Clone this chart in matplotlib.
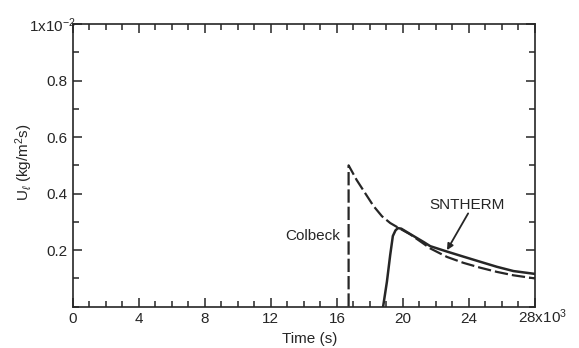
import matplotlib
matplotlib.use("Agg")
import matplotlib.pyplot as plt
from matplotlib.ticker import MultipleLocator
import matplotlib.transforms as mtransforms

# values (time in 10^3 s, U_l in 10^-2 kg/m2s)
colbeck_t = [16.71, 16.71, 17.2, 17.72, 18.22, 18.73, 19.23, 19.73, 20.44, 21.25, 21.66, 22.67, 23.67, 24.68, 25.7, 26.7, 28.0]
colbeck_u = [0.0, 0.50, 0.448, 0.401, 0.356, 0.320, 0.296, 0.279, 0.256, 0.223, 0.206, 0.176, 0.155, 0.138, 0.123, 0.111, 0.100]

sntherm_t = [18.8, 19.03, 19.23, 19.39, 19.55, 19.7, 19.9, 20.44, 21.25, 21.66, 22.67, 23.67, 24.68, 25.7, 26.7, 28.0]
sntherm_u = [0.0, 0.088, 0.183, 0.25, 0.27, 0.278, 0.276, 0.257, 0.229, 0.214, 0.195, 0.177, 0.159, 0.141, 0.126, 0.116]

xticks = [0, 4, 8, 12, 16, 20, 24, 28]
xlabels = ['0', '4', '8', '12', '16', '20', '24', '28x10$^3$']
yticks = [0.2, 0.4, 0.6, 0.8, 1.0]
ylabels = ['0.2', '0.4', '0.6', '0.8', '1x10$^{-2}$']

plt.rcParams['font.family'] = ['Liberation Sans', 'DejaVu Sans']
plt.rcParams['mathtext.fontset'] = 'custom'
plt.rcParams['mathtext.rm'] = 'Liberation Sans'
plt.rcParams['mathtext.it'] = 'Liberation Sans:italic'

ink = '#262626'
fs = 11
fig = plt.figure(figsize=(5.79, 3.48), dpi=100)
ax = fig.add_axes([0.1256, 0.1187, 0.924 - 0.1256, 0.931 - 0.1187])

ax.plot(colbeck_t, colbeck_u, color=ink, lw=1.6, dashes=(6, 1.8))
ax.plot(sntherm_t, sntherm_u, color=ink, lw=1.8)

ax.text(16.2, 0.25, 'Colbeck', ha='right', va='center', fontsize=fs, color=ink)
ax.text(21.6, 0.36, 'SNTHERM', ha='left', va='center', fontsize=fs, color=ink)
ax.annotate('', xy=(22.67, 0.20), xytext=(23.95, 0.33),
            arrowprops=dict(arrowstyle='-|>', color=ink, lw=1.3,
                            shrinkA=0, shrinkB=0, mutation_scale=9))

ax.set_xlim(0, 28)
ax.set_ylim(0, 1.0)
ax.set_xticks(xticks)
ax.set_xticklabels(xlabels)
ax.set_yticks(yticks)
ax.set_yticklabels(ylabels)
ax.xaxis.set_minor_locator(MultipleLocator(1))
ax.yaxis.set_minor_locator(MultipleLocator(0.1))
ax.tick_params(which='both', direction='in', top=True, right=True,
               color=ink, width=1.1, labelsize=fs, labelcolor=ink)
ax.tick_params(which='major', length=6.5, pad=4)
ax.tick_params(which='minor', length=4)
for s in ax.spines.values():
    s.set_linewidth(1.2)
    s.set_color(ink)

# nudge the labels carrying the exponent, like in the original
lab = ax.get_xticklabels()[-1]
lab.set_transform(lab.get_transform() + mtransforms.ScaledTranslation(8 / 100, 5 / 100, fig.dpi_scale_trans))
lab = ax.get_yticklabels()[-1]
lab.set_transform(lab.get_transform() + mtransforms.ScaledTranslation(9 / 100, 0, fig.dpi_scale_trans))

ax.set_xlabel('Time (s)', fontsize=fs, color=ink)
ax.xaxis.set_label_coords(0.513, -0.088)
ax.set_ylabel('U$_\\ell$ (kg/m$^2$s)', fontsize=fs, color=ink)
ax.yaxis.set_label_coords(-0.082, 0.51)

fig.savefig('out.png', dpi=100)
